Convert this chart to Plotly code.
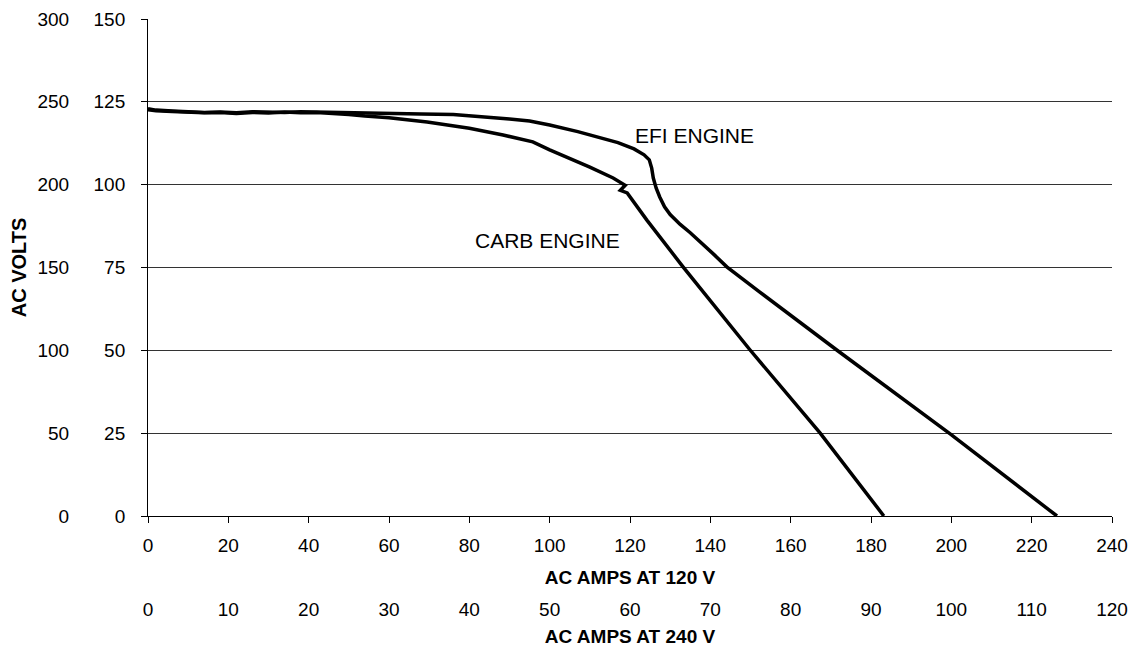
import plotly.graph_objects as go

# curves: amps at 120 V vs volts on the 120 V scale
efi_amps = [0, 2, 6, 10, 14, 18, 22, 26, 30, 34, 38, 42, 46, 50, 54, 60, 68, 76,
            84, 90, 95, 100, 107, 112, 117, 121, 123.5, 124.8, 125.4, 125.8, 126.5,
            127.4, 128.6, 130, 132.5, 135, 138, 141, 144.1, 148, 152.4, 171.8,
            199.7, 226.3]
efi_volts = [122.9, 122.5, 122.2, 122.0, 121.8, 121.9, 121.7, 122.0, 121.9, 121.8,
             122.0, 121.9, 121.8, 121.7, 121.4, 121.3, 121.3, 121.2, 120.5, 119.8,
             119.2, 118.0, 116.0, 114.4, 112.7, 110.8, 109.0, 107.5, 105.0, 102.0,
             99.0, 96.3, 93.3, 91.0, 88.0, 85.5, 82.3, 78.8, 75.2, 71.5, 67.5, 49.8,
             24.8, 0]

carb_amps = [0, 2, 6, 10, 14, 18, 22, 26, 30, 34, 38, 42, 46, 50, 54, 60, 69.5, 80,
             88.4, 95.8, 100, 105.8, 110, 115.8, 118.8, 117.6, 119.3, 124.2, 133.2,
             149.9, 167.3, 183.2]
carb_volts = [122.6, 122.3, 122.1, 121.9, 121.7, 121.8, 121.5, 121.8, 121.6, 121.9,
              121.7, 121.8, 121.6, 121.2, 120.7, 120.2, 118.9, 117.0, 115.0, 112.9,
              110.5, 107.5, 105.3, 102.0, 99.8, 98.3, 97.5, 89.3, 75.2, 50.1, 25.1, 0]

amps_120_ticks = list(range(0, 241, 20))
amps_240_ticks = list(range(0, 121, 10))
volts_120_ticks = list(range(0, 151, 25))
volts_240_ticks = list(range(0, 301, 50))

FONT = "Liberation Sans, Arial, sans-serif"
TICKFONT = dict(family=FONT, size=19, color="black")
TITLEFONT = dict(family=FONT, size=19, color="black", weight="bold")
LABELFONT = dict(family=FONT, size=21, color="black")

fig = go.Figure()
fig.add_trace(go.Scatter(x=efi_amps, y=efi_volts, mode="lines", name="EFI ENGINE",
                         line=dict(color="black", width=3.5)))
fig.add_trace(go.Scatter(x=carb_amps, y=carb_volts, mode="lines", name="CARB ENGINE",
                         line=dict(color="black", width=3.5)))

# invisible trace so the second x/y axes get drawn
fig.add_trace(go.Scatter(x=[0, 120], y=[0, 300], xaxis="x2", yaxis="y2",
                         mode="markers", marker=dict(opacity=0), hoverinfo="skip",
                         showlegend=False))

fig.add_annotation(x=120.7, y=114.7, text="EFI ENGINE", showarrow=False,
                   xanchor="left", font=LABELFONT)
fig.add_annotation(x=80.9, y=83, text="CARB ENGINE", showarrow=False,
                   xanchor="left", font=LABELFONT)

# page body adds an 8px offset, so the figure is sized to the remaining viewport
fig.update_layout(
    width=1131, height=643,
    paper_bgcolor="white", plot_bgcolor="white",
    margin=dict(l=2, r=27, t=11, b=3, autoexpand=False),
    showlegend=False,
    xaxis=dict(domain=[0.12523, 1], range=[0, 240], tickvals=amps_120_ticks,
               ticks="outside", ticklen=6, tickcolor="black", showline=True,
               linecolor="black", linewidth=1, showgrid=False, zeroline=False,
               tickfont=TICKFONT, ticklabelstandoff=6, automargin=False,
               title=dict(text="AC AMPS AT 120 V", font=TITLEFONT, standoff=15)),
    yaxis=dict(domain=[0.20986, 1], range=[0, 150], tickvals=volts_120_ticks,
               ticks="outside", ticklen=6, tickcolor="black", showline=True,
               linecolor="black", linewidth=1, showgrid=True, gridcolor="#333333",
               gridwidth=1, zeroline=False, tickfont=TICKFONT, ticklabelstandoff=12,
               automargin=False),
    xaxis2=dict(domain=[0.12523, 1], range=[0, 120], tickvals=amps_240_ticks,
                anchor="free", position=0.1081, overlaying="x", side="bottom",
                ticks="outside", ticklen=6, tickcolor="rgba(0,0,0,0)",
                showline=False, showgrid=False, zeroline=False, tickfont=TICKFONT,
                ticklabelstandoff=6, automargin=False,
                title=dict(text="AC AMPS AT 240 V", font=TITLEFONT, standoff=10)),
    yaxis2=dict(domain=[0.20986, 1], range=[0, 300], tickvals=volts_240_ticks,
                anchor="free", position=0.0735, overlaying="y", side="left",
                ticks="outside", ticklen=6, tickcolor="rgba(0,0,0,0)",
                showline=False, showgrid=False, zeroline=False, tickfont=TICKFONT,
                ticklabelstandoff=12, automargin=False,
                title=dict(text="AC VOLTS", font=dict(TITLEFONT, size=20),
                           standoff=8)),
)

fig.write_html("out.html")
